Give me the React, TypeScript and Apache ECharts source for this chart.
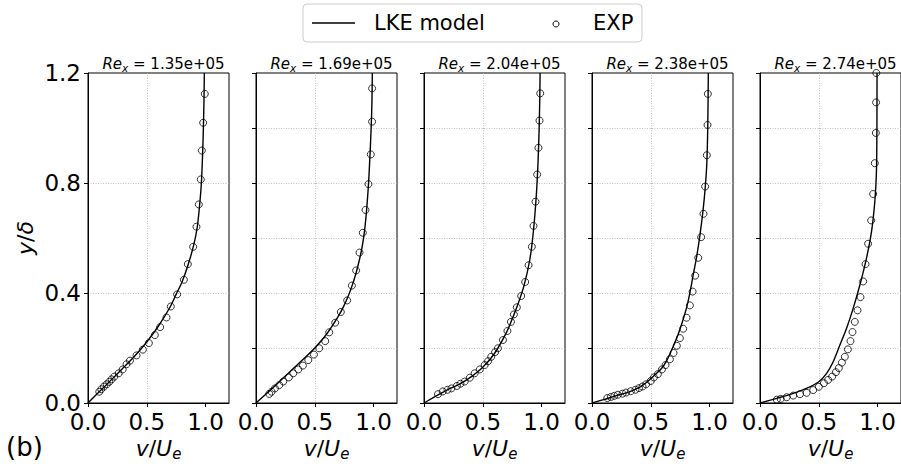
import React, { useEffect, useRef } from 'react';
import * as echarts from 'echarts';

const reynolds = ['1.35e+05', '1.69e+05', '2.04e+05', '2.38e+05', '2.74e+05'];
const xTickValues = [0, 0.5, 1.0];

// LKE model curves [v/Ue, y/delta]
const lke1 = [[0, 0], [0.1, 0.043], [0.2, 0.085], [0.3, 0.128], [0.4, 0.172], [0.5, 0.222], [0.6, 0.28], [0.7, 0.35], [0.75, 0.395], [0.8, 0.44], [0.85, 0.5], [0.9, 0.575], [0.93, 0.64], [0.95, 0.72], [0.965, 0.8], [0.975, 0.9], [0.982, 1.0], [0.987, 1.1], [0.99, 1.2]];
const lke2 = [[0, 0], [0.1, 0.038], [0.2, 0.078], [0.3, 0.118], [0.4, 0.158], [0.5, 0.2], [0.6, 0.25], [0.7, 0.315], [0.75, 0.355], [0.8, 0.405], [0.85, 0.47], [0.9, 0.56], [0.93, 0.65], [0.955, 0.78], [0.97, 0.9], [0.98, 1.0], [0.987, 1.1], [0.99, 1.2]];
const lke3 = [[0, 0], [0.1, 0.025], [0.2, 0.048], [0.3, 0.068], [0.4, 0.095], [0.5, 0.13], [0.6, 0.18], [0.7, 0.255], [0.75, 0.305], [0.8, 0.36], [0.85, 0.425], [0.9, 0.52], [0.93, 0.62], [0.955, 0.75], [0.97, 0.87], [0.98, 1.0], [0.985, 1.1], [0.988, 1.2]];
const lke4 = [[0, 0], [0.1, 0.012], [0.2, 0.026], [0.3, 0.038], [0.4, 0.056], [0.45, 0.07], [0.5, 0.088], [0.55, 0.108], [0.6, 0.13], [0.64, 0.158], [0.675, 0.19], [0.72, 0.235], [0.75, 0.27], [0.78, 0.31], [0.81, 0.355], [0.835, 0.405], [0.86, 0.463], [0.89, 0.53], [0.92, 0.615], [0.945, 0.7], [0.963, 0.78], [0.977, 0.87], [0.985, 1.0], [0.99, 1.2]];
const lke5 = [[0, 0], [0.142, 0.017], [0.283, 0.035], [0.425, 0.059], [0.5, 0.077], [0.567, 0.108], [0.623, 0.15], [0.68, 0.211], [0.737, 0.272], [0.793, 0.344], [0.85, 0.429], [0.906, 0.526], [0.949, 0.623], [0.977, 0.732], [0.991, 0.841], [0.995, 1.0], [0.996, 1.2]];

// Experimental points [v/Ue, y/delta]
const exp1 = [[0.096, 0.041], [0.113, 0.05], [0.136, 0.06], [0.159, 0.068], [0.181, 0.077], [0.201, 0.086], [0.224, 0.096], [0.261, 0.108], [0.295, 0.122], [0.328, 0.141], [0.357, 0.154], [0.413, 0.173], [0.467, 0.194], [0.518, 0.218], [0.569, 0.247], [0.614, 0.276], [0.668, 0.311], [0.705, 0.351], [0.759, 0.395], [0.816, 0.448], [0.85, 0.505], [0.895, 0.568], [0.923, 0.641], [0.943, 0.722], [0.96, 0.813], [0.969, 0.918], [0.98, 1.019], [0.994, 1.124]];
const exp2 = [[0.113, 0.033], [0.133, 0.041], [0.161, 0.053], [0.198, 0.065], [0.232, 0.078], [0.28, 0.093], [0.317, 0.108], [0.36, 0.122], [0.399, 0.136], [0.445, 0.156], [0.493, 0.176], [0.538, 0.199], [0.589, 0.225], [0.623, 0.257], [0.674, 0.292], [0.722, 0.331], [0.776, 0.373], [0.816, 0.427], [0.852, 0.482], [0.881, 0.547], [0.909, 0.619], [0.932, 0.702], [0.957, 0.796], [0.977, 0.904], [0.988, 1.023], [0.988, 1.144]];
const exp3 = [[0.119, 0.032], [0.16, 0.042], [0.2, 0.048], [0.233, 0.053], [0.28, 0.062], [0.31, 0.07], [0.346, 0.078], [0.39, 0.092], [0.431, 0.108], [0.475, 0.122], [0.516, 0.138], [0.545, 0.152], [0.572, 0.168], [0.605, 0.185], [0.629, 0.199], [0.672, 0.229], [0.71, 0.262], [0.74, 0.295], [0.765, 0.322], [0.79, 0.348], [0.827, 0.389], [0.861, 0.44], [0.89, 0.501], [0.918, 0.568], [0.932, 0.644], [0.949, 0.732], [0.963, 0.831], [0.974, 0.928], [0.983, 1.027], [0.989, 1.126]];
const exp4 = [[0.13, 0.018], [0.16, 0.022], [0.19, 0.026], [0.22, 0.03], [0.26, 0.034], [0.29, 0.038], [0.33, 0.043], [0.37, 0.048], [0.4, 0.054], [0.43, 0.06], [0.46, 0.068], [0.5, 0.08], [0.527, 0.093], [0.561, 0.105], [0.595, 0.122], [0.626, 0.138], [0.663, 0.159], [0.694, 0.182], [0.722, 0.208], [0.748, 0.236], [0.776, 0.27], [0.805, 0.31], [0.833, 0.355], [0.856, 0.405], [0.878, 0.463], [0.904, 0.528], [0.929, 0.603], [0.949, 0.688], [0.963, 0.787], [0.977, 0.901], [0.983, 1.011], [0.986, 1.124]];
const exp5 = [[0.143, 0.012], [0.176, 0.015], [0.227, 0.021], [0.283, 0.027], [0.34, 0.032], [0.397, 0.037], [0.453, 0.047], [0.501, 0.059], [0.544, 0.072], [0.58, 0.084], [0.614, 0.096], [0.646, 0.112], [0.671, 0.127], [0.697, 0.147], [0.722, 0.168], [0.748, 0.195], [0.77, 0.225], [0.787, 0.258], [0.807, 0.295], [0.83, 0.337], [0.855, 0.385], [0.878, 0.442], [0.898, 0.505], [0.92, 0.579], [0.946, 0.664], [0.963, 0.76], [0.977, 0.872], [0.986, 0.982], [0.988, 1.093], [0.99, 1.2]];

const lkeSeries = [lke1, lke2, lke3, lke4, lke5];
const expSeries = [exp1, exp2, exp3, exp4, exp5];

const FONT = 'DejaVu Sans';

export default function App() {
  const ref = useRef<HTMLDivElement>(null);
  useEffect(() => {
    if (!ref.current) return;
    const chart = echarts.init(ref.current, undefined, { renderer: 'svg' });
    const PL = 88, STEP = 168, PW = 141, PT = 73, PH = 330;
    const grids: any[] = [], xAxes: any[] = [], yAxes: any[] = [], series: any[] = [], titles: any[] = [];
    const gridLine = { show: true, showMinLine: false, showMaxLine: false, lineStyle: { color: '#b0b0b0', width: 0.8, type: [1, 1.5] } };
    for (let i = 0; i < 5; i++) {
      const left = PL + STEP * i;
      grids.push({ left, top: PT, width: PW, height: PH, show: true, borderColor: '#000', borderWidth: 1, backgroundColor: 'transparent', containLabel: false });
      xAxes.push({
        type: 'value', gridIndex: i, min: 0, max: 1.2, interval: 0.5,
        axisLine: { show: true, onZero: false, lineStyle: { color: '#000', width: 1 } },
        axisTick: { show: true, length: 4, customValues: xTickValues, lineStyle: { color: '#000' } },
        axisLabel: { show: true, customValues: xTickValues, margin: 7, color: '#000', fontSize: 23, fontFamily: FONT, formatter: (v: number) => v.toFixed(1) },
        splitLine: gridLine,
        name: '{i|v}{n|/}{i|U}{s|e}', nameLocation: 'middle', nameGap: 32,
        nameTextStyle: {
          color: '#000', fontFamily: FONT, fontSize: 22,
          rich: {
            i: { fontStyle: 'italic', fontSize: 22, fontFamily: FONT, color: '#000' },
            n: { fontSize: 22, fontFamily: FONT, color: '#000' },
            s: { fontStyle: 'italic', fontSize: 15, fontFamily: FONT, color: '#000', padding: [10, 0, 0, 0] },
          },
        },
      });
      yAxes.push({
        type: 'value', gridIndex: i, min: 0, max: 1.2, interval: i === 0 ? 0.4 : 0.2,
        axisLine: { show: true, onZero: false, lineStyle: { color: '#000', width: 1 } },
        axisTick: { show: true, length: 4, lineStyle: { color: '#000' } },
        axisLabel: { show: i === 0, margin: 7, color: '#000', fontSize: 23, fontFamily: FONT, formatter: (v: number) => v.toFixed(1) },
        splitLine: gridLine,
        name: i === 0 ? '{i|y}{n|/}{i|δ}' : '', nameLocation: 'middle', nameGap: 52,
        nameTextStyle: {
          color: '#000', fontFamily: FONT, fontSize: 22,
          rich: {
            i: { fontStyle: 'italic', fontSize: 22, fontFamily: FONT, color: '#000' },
            n: { fontSize: 22, fontFamily: FONT, color: '#000' },
          },
        },
      });
      series.push({
        type: 'scatter', name: 'EXP', xAxisIndex: i, yAxisIndex: i, data: expSeries[i],
        symbol: 'circle', symbolSize: 7, clip: false,
        itemStyle: { color: 'rgba(0,0,0,0)', borderColor: '#000', borderWidth: 1 },
        z: 2,
      });
      series.push({
        type: 'line', name: 'LKE model', xAxisIndex: i, yAxisIndex: i, data: lkeSeries[i],
        showSymbol: false, symbol: 'none', smooth: 0.3,
        lineStyle: { color: '#000', width: 1.4 }, z: 3,
      });
      titles.push({
        text: `{i|Re}{s|x}{n| = ${reynolds[i]}}`,
        left: left + PW / 2, top: 50, textAlign: 'center',
        textStyle: {
          fontFamily: FONT, fontSize: 15, color: '#000', fontWeight: 'normal',
          rich: {
            i: { fontStyle: 'italic', fontSize: 15, fontFamily: FONT, color: '#000' },
            n: { fontSize: 15, fontFamily: FONT, color: '#000' },
            s: { fontStyle: 'italic', fontSize: 10.5, fontFamily: FONT, color: '#000', padding: [7, 0, 0, 0] },
          },
        },
      });
    }
    chart.setOption({
      animation: false,
      backgroundColor: '#fff',
      title: titles,
      grid: grids,
      xAxis: xAxes,
      yAxis: yAxes,
      series,
      graphic: [
        { type: 'rect', shape: { x: 303, y: 4, width: 339, height: 38, r: 4 }, style: { fill: '#fff', stroke: '#cccccc', lineWidth: 1 }, z: 10 },
        { type: 'line', shape: { x1: 312, y1: 23, x2: 355, y2: 23 }, style: { stroke: '#000', lineWidth: 1.4 }, z: 11 },
        { type: 'text', x: 374, y: 23, style: { text: 'LKE model', fontFamily: FONT, fontSize: 21, fill: '#000', verticalAlign: 'middle' }, z: 11 },
        { type: 'circle', shape: { cx: 556, cy: 24, r: 3 }, style: { fill: 'none', stroke: '#000', lineWidth: 1 }, z: 11 },
        { type: 'text', x: 593, y: 23, style: { text: 'EXP', fontFamily: FONT, fontSize: 21, fill: '#000', verticalAlign: 'middle' }, z: 11 },
        { type: 'text', x: 6, y: 447, style: { text: '(b)', fontFamily: FONT, fontSize: 26, fill: '#000', verticalAlign: 'middle' }, z: 11 },
      ],
    });
    return () => chart.dispose();
  }, []);
  return <div ref={ref} style={{ width: 901, height: 468, position: 'absolute', left: 0, top: 0 }} />;
}
